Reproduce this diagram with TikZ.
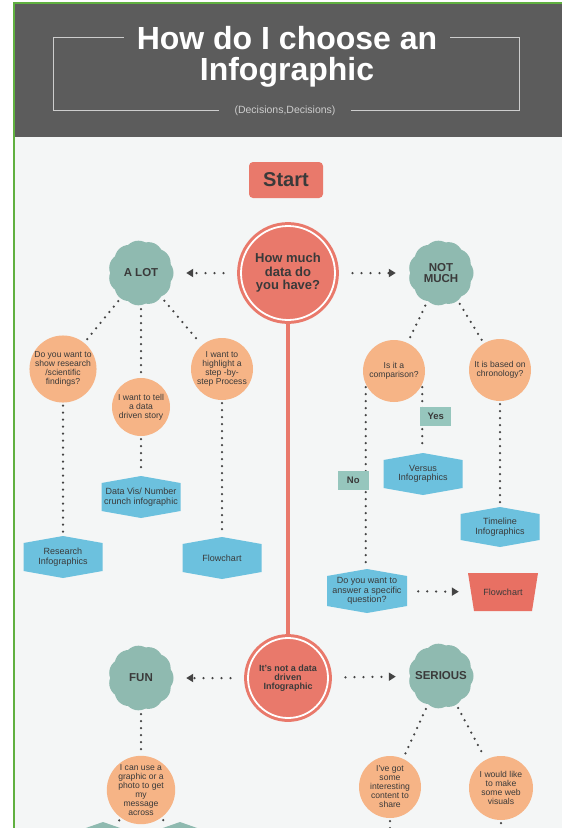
\documentclass[tikz,border=0pt]{standalone}
\usepackage{fontspec}
\setmainfont{Liberation Sans}
\usetikzlibrary{arrows.meta, positioning, calc}

\definecolor{salmon}{RGB}{233,121,107}
\definecolor{flowred}{RGB}{232,112,99}
\definecolor{peach}{RGB}{246,180,134}
\definecolor{sage}{RGB}{143,186,176}
\definecolor{tagteal}{RGB}{150,198,189}
\definecolor{sky}{RGB}{108,193,222}
\definecolor{ink}{RGB}{58,58,58}
\definecolor{dotgray}{RGB}{68,68,68}
\definecolor{chalk}{RGB}{92,92,92}
\definecolor{paper}{RGB}{244,246,246}
\definecolor{framegray}{RGB}{205,205,205}
\definecolor{leaf}{RGB}{96,176,64}

\tikzset{
  headline/.style={text=white, inner sep=0pt, font=\bfseries\fontsize{32}{32}\selectfont},
  subline/.style={text=framegray, inner sep=0pt, font=\fontsize{10.5}{11}\selectfont},
  startbox/.style={fill=salmon, rounded corners=4pt, minimum width=74pt, minimum height=36pt,
    text=ink, font=\bfseries\fontsize{20}{20}\selectfont},
  hub/.style={circle, fill=salmon, draw=salmon, line width=3pt, double=white, double distance=1.8pt,
    inner sep=0pt, text=ink, align=center},
  badge/.style={circle, minimum size=66pt, inner sep=0pt, text=ink, align=center,
    font=\bfseries\fontsize{11.5}{11.5}\selectfont,
    path picture={
      \fill[sage] (path picture bounding box.center) circle (24pt);
      \foreach \k in {0,...,10}
        \fill[sage] ([shift={(\k*32.727:18pt)}]path picture bounding box.center) circle (14.5pt);}},
  ask/.style={circle, fill=peach, minimum size=62pt, inner sep=0pt, text=ink, align=center,
    font=\fontsize{8.6}{9}\selectfont},
  hexa/.style={minimum width=79pt, minimum height=42pt, inner sep=1pt, text=ink, align=center,
    font=\fontsize{9}{9.4}\selectfont,
    path picture={\fill[#1] ([yshift=-7pt]path picture bounding box.north west)
      -- (path picture bounding box.north) -- ([yshift=-7pt]path picture bounding box.north east)
      -- ([yshift=7pt]path picture bounding box.south east) -- (path picture bounding box.south)
      -- ([yshift=7pt]path picture bounding box.south west) -- cycle;}},
  hexa/.default=sky,
  trap/.style={minimum width=70pt, minimum height=38pt, inner sep=0pt, text=ink,
    font=\fontsize{9}{9.4}\selectfont,
    path picture={\fill[flowred] (path picture bounding box.north west)
      -- (path picture bounding box.north east) -- ([xshift=-6pt]path picture bounding box.south east)
      -- ([xshift=6pt]path picture bounding box.south west) -- cycle;}},
  tag/.style={fill=tagteal, minimum width=31pt, minimum height=19pt, inner sep=0pt, text=ink,
    font=\bfseries\fontsize{9.5}{10}\selectfont},
  dots/.style={draw=dotgray, line width=2.5pt, line cap=round, dash pattern=on 0pt off 7pt,
    shorten <=3pt, shorten >=3pt},
  pointer/.style={draw=dotgray, line width=2.5pt, line cap=round, dash pattern=on 0pt off 9pt,
    ->, shorten <=16pt, shorten >=12pt}
}

\begin{document}
\begin{tikzpicture}[x=1pt, y=-1pt, >={Triangle[length=7pt, width=8pt]}]
  \useasboundingbox (0,0) rectangle (562,828);
  \clip (0,0) rectangle (562,828);
  \fill[white] (0,0) rectangle (562,828);
  \fill[paper] (15,137) rectangle (562,828);
  \fill[chalk] (15,3) rectangle (562,137);
  \draw[leaf, line width=2pt] (14,828) -- (14,3) -- (562,3);

  % header
  \node[headline, anchor=base] (title-0) at (287,49) {How do I choose an};
  \node[headline, anchor=base] (title-1) at (287,80) {Infographic};
  \node[subline, anchor=base] (subtitle) at (285,113) {(Decisions,Decisions)};
  \draw[framegray, line width=1pt] (124,37) -- (53,37) -- (53,110) -- (219,110);
  \draw[framegray, line width=1pt] (450,37) -- (519,37) -- (519,110) -- (351,110);

  \node[startbox] (start) at (286,180) {Start};
  \node[hub, minimum size=94pt, font=\bfseries\fontsize{13}{13.5}\selectfont] (howmuch) at (288,273) {How much\\data do\\you have?};
  \node[hub, minimum size=80pt, font=\bfseries\fontsize{9}{9.2}\selectfont] (notdata) at (288,678) {It's not a data\\driven\\Infographic};
  \draw[salmon, line width=3.5pt] (howmuch) -- (notdata);

  \node[badge] (alot) at (141,273) {A LOT};
  \node[badge] (notmuch) at (441,273) {NOT\\MUCH};
  \node[badge] (fun) at (141,678) {FUN};
  \node[badge] (serious) at (441,676) {SERIOUS};

  \node[ask] (q-research) at (63,369) {Do you want to\\show research\\/scientific\\findings?};
  \node[ask, minimum size=58pt] (q-story) at (141,407) {I want to tell\\a data\\driven story};
  \node[ask] (q-process) at (222,369) {I want to\\highlight a\\step -by-\\step Process};
  \node[ask] (q-compare) at (394,371) {Is it a\\comparison?};
  \node[ask] (q-chrono) at (500,370) {It is based on\\chronology?};
  \node[ask, minimum size=64pt] (q-photo) at (141,790) {I can use a\\graphic or a\\photo to get\\my\\message\\across};
  \node[ask] (q-share) at (390,787) {I've got\\some\\interesting\\content to\\share};
  \node[ask, minimum size=64pt] (q-web) at (501,788) {I would like\\to make\\some web\\visuals};

  \node[hexa] (hex-datavis) at (141,497) {Data Vis/ Number\\crunch infographic};
  \node[hexa] (hex-research) at (63,557) {Research\\Infographics};
  \node[hexa] (hex-flow) at (222,558) {Flowchart};
  \node[hexa] (hex-versus) at (423,474) {Versus\\Infographics};
  \node[hexa, minimum height=40pt] (hex-timeline) at (500,527) {Timeline\\Infographics};
  \node[hexa, minimum width=80pt, minimum height=44pt] (hex-question) at (367,591) {Do you want to\\answer a specific\\question?};
  \node[trap] (flowtrap) at (503,592) {Flowchart};
  \node[hexa=sage, minimum width=40pt] (hex-photo-0) at (103,843) {};
  \node[hexa=sage, minimum width=40pt] (hex-photo-1) at (180,843) {};
  \coordinate (share-next) at (390,846);
  \coordinate (web-next) at (501,846);

  \foreach \from/\to in {alot/q-research, alot/q-story, alot/q-process,
      q-research/hex-research, q-story/hex-datavis, q-process/hex-flow,
      notmuch/q-compare, notmuch/q-chrono, q-chrono/hex-timeline,
      fun/q-photo, q-photo/hex-photo-0, q-photo/hex-photo-1,
      serious/q-share, serious/q-web, q-share/share-next, q-web/web-next}
    \draw[dots] (\from) -- (\to);
  \draw[dots] (q-compare.-25) -- (q-compare.-25 |- hex-versus.north);
  \draw[dots] (q-compare.-155) -- (q-compare.-155 |- hex-question.north);

  \foreach \from/\to in {howmuch/alot, howmuch/notmuch, notdata/fun, notdata/serious}
    \draw[pointer] (\from) -- (\to);
  \draw[pointer, shorten <=11pt, shorten >=9pt] (hex-question) -- (flowtrap);

  \node[tag, anchor=west] (tag-yes) at (420,416) {Yes};
  \node[tag, anchor=east] (tag-no) at (369,480) {No};
\end{tikzpicture}
\end{document}
